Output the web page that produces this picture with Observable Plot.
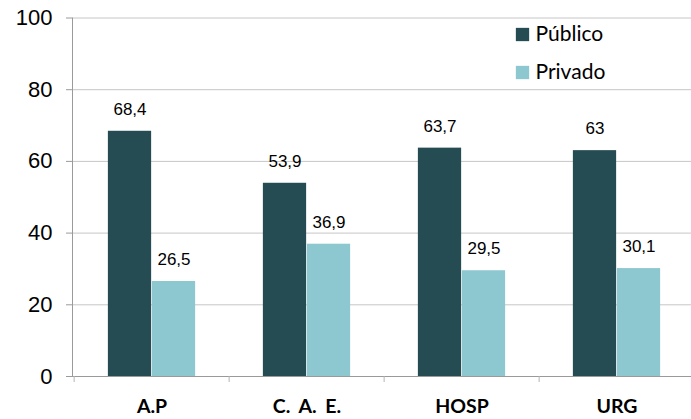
<!DOCTYPE html>
<html><head><meta charset="utf-8">
<script src="https://cdn.jsdelivr.net/npm/d3@7"></script>
<script src="https://cdn.jsdelivr.net/npm/@observablehq/plot@0.6"></script>
<style>
body{margin:0;background:#fff}
g[aria-label="x-axis tick label"] text { word-spacing: 4px; }
</style>
</head><body><div id="chart"></div>
<script>
const categories = ["A.P", "C. A. E.", "HOSP", "URG"];
const seriesNames = ["Público", "Privado"];
const publico = [68.4, 53.9, 63.7, 63];
const privado = [26.5, 36.9, 29.5, 30.1];
const yTicks = [0, 20, 40, 60, 80, 100];

const dark = "#244C52", light = "#8DC7CF";
const fmt = v => String(v).replace(".", ",");
const rows = categories.map((c, i) => ({cat: c, pub: publico[i], priv: privado[i]}));

const x0 = 72, x1 = 695;
const band = (x1 - x0) / categories.length;
const bw = 44;
const off = band / 2 - bw;
const numFont = "'Liberation Sans', Arial, sans-serif";
const lblFont = "Lato, 'Open Sans', sans-serif";

const chart = Plot.plot({
  width: 691, height: 419,
  marginTop: 17.5, marginBottom: 43, marginLeft: 72, marginRight: 0,
  x: {domain: categories, range: [x0, x1], padding: 0},
  y: {domain: [0, 100]},
  style: {background: "white", color: "#000"},
  marks: [
    Plot.gridY(yTicks.filter(d => d > 0), {stroke: "#c6c6c6", strokeOpacity: 1}),
    Plot.barY(rows, {x: "cat", y: "pub", fill: dark, insetLeft: off, insetRight: band - off - bw}),
    Plot.barY(rows, {x: "cat", y: "priv", fill: light, insetLeft: off + bw, insetRight: off}),
    Plot.ruleY([0], {stroke: "#9a9a9a"}),
    Plot.frame({anchor: "left", stroke: "#9a9a9a"}),
    Plot.ruleX(categories, {x: d => d, dx: -band / 2, y1: 0, y2: 0, insetBottom: -6, stroke: "#b5b5b5"}),
    Plot.text(rows, {x: "cat", y: "pub", text: d => fmt(d.pub), dx: -bw / 2, dy: -22, lineAnchor: "middle", fontSize: 17, fontFamily: numFont, fill: "#000"}),
    Plot.text(rows, {x: "cat", y: "priv", text: d => fmt(d.priv), dx: bw / 2, dy: -22, lineAnchor: "middle", fontSize: 17, fontFamily: numFont, fill: "#000"}),
    Plot.axisY({ticks: yTicks, tickSize: 6, tickPadding: 14, fontSize: 22, fontFamily: numFont, stroke: "#9a9a9a", fill: "#000", label: null}),
    Plot.axisX({tickSize: 0, tickPadding: 23, fontSize: 19.5, fontWeight: "bold", fontFamily: lblFont, fill: "#000", label: null}),
    Plot.dot([seriesNames[0]], {frameAnchor: "top-left", dx: 522 - 72, dy: 34 - 17.5, symbol: "square", r: 7.5, fill: dark}),
    Plot.dot([seriesNames[1]], {frameAnchor: "top-left", dx: 522 - 72, dy: 72 - 17.5, symbol: "square", r: 7.5, fill: light}),
    Plot.text([seriesNames[0]], {text: d => d, frameAnchor: "top-left", dx: 535 - 72, dy: 33.5 - 17.5, textAnchor: "start", lineAnchor: "middle", fontSize: 21, fontFamily: lblFont, fill: "#000"}),
    Plot.text([seriesNames[1]], {text: d => d, frameAnchor: "top-left", dx: 535 - 72, dy: 71.5 - 17.5, textAnchor: "start", lineAnchor: "middle", fontSize: 21, fontFamily: lblFont, fill: "#000"})
  ]
});
document.getElementById("chart").append(chart);
</script>
</body></html>
